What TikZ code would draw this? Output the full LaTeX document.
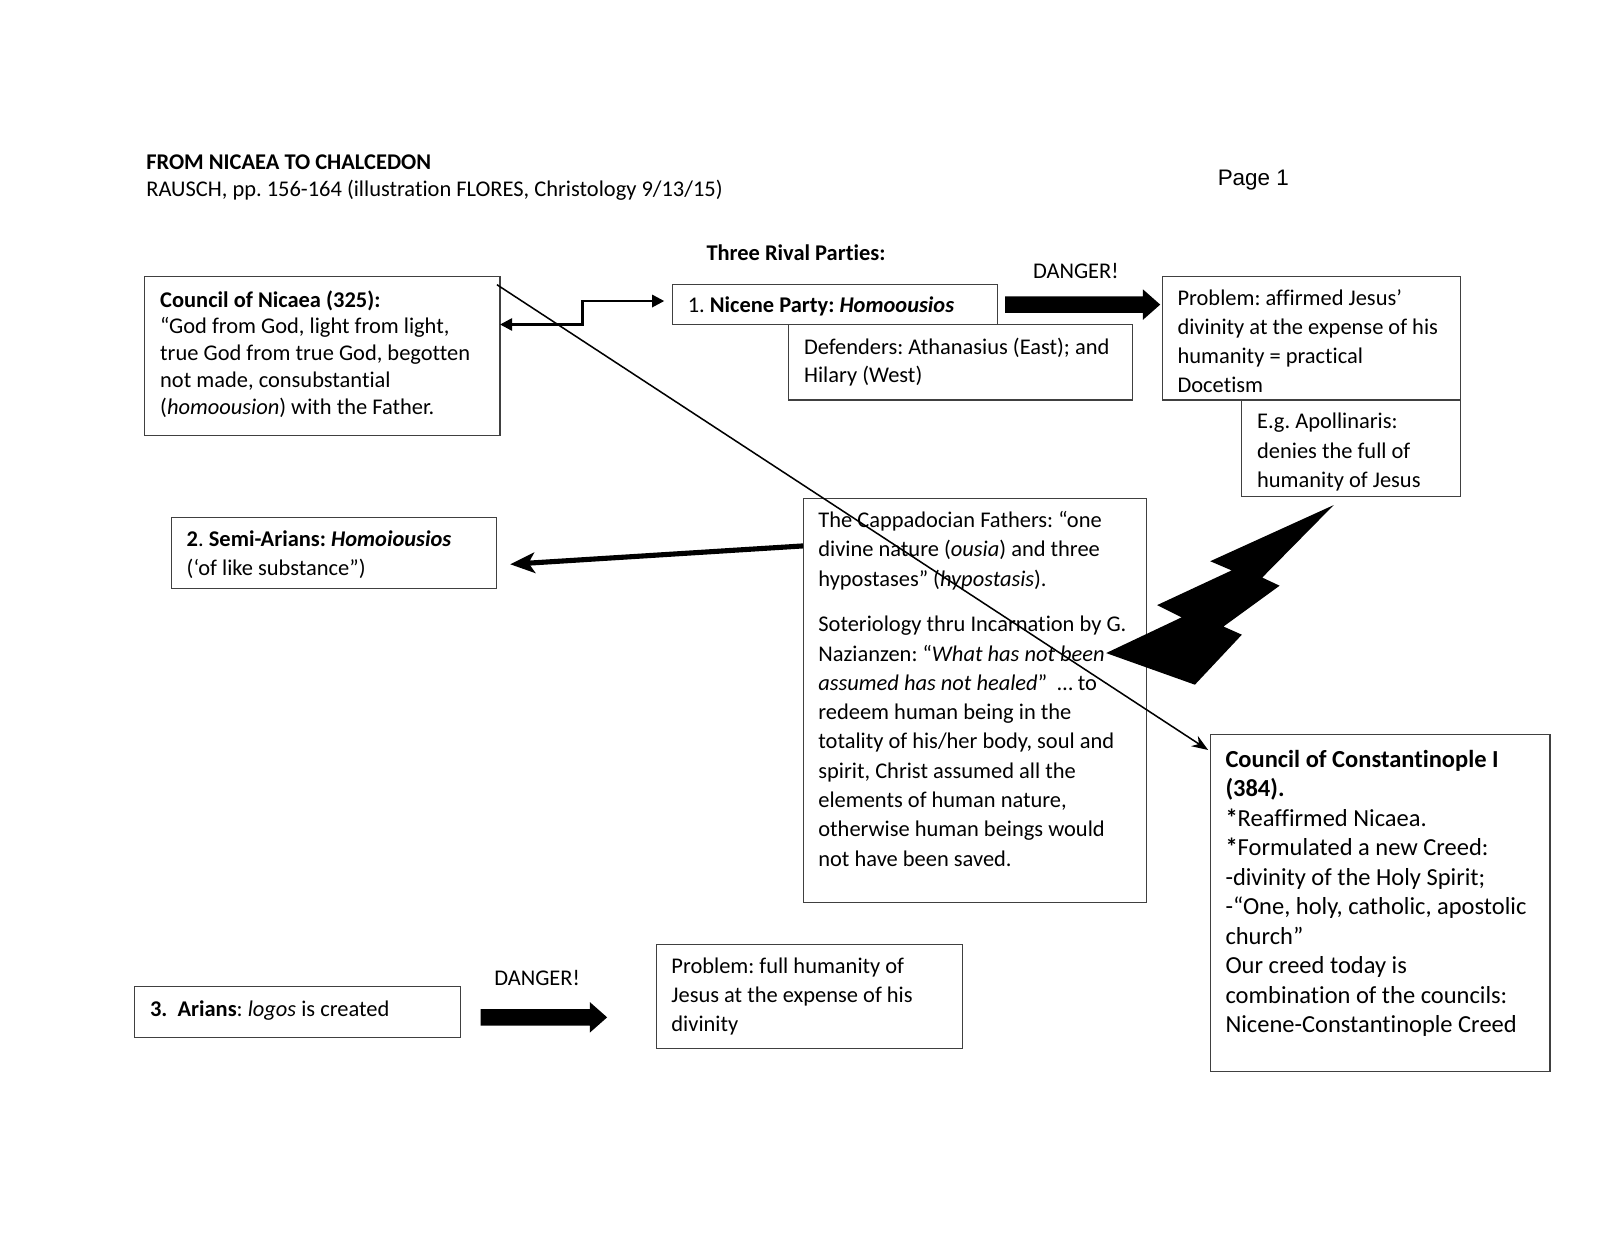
\documentclass[tikz,border=0pt]{standalone}
\usepackage{fontspec}
\setmainfont{Carlito}[Ligatures={TeX,NoCommon}]
\newfontfamily\arialfont{Liberation Sans}
\usetikzlibrary{arrows.meta,calc}
\frenchspacing
\newcommand{\bx}[4]{\parbox[c][#2][t]{#1}{\raggedright\rule{0pt}{#3}#4}}
\newcommand{\blockarrow}[2]{\fill ($(#1)+(0,-8)$) -- ($(#2)+(-17,-8)$) -- ($(#2)+(-17,-15)$) -- (#2) -- ($(#2)+(-17,15)$) -- ($(#2)+(-17,8)$) -- ($(#1)+(0,8)$) -- cycle;}
\begin{document}
\begin{tikzpicture}[x=0.5pt,y=-0.5pt,
  box/.style={draw=black!75, line width=0.5pt, fill=white, inner xsep=7.5pt, inner ysep=0pt, anchor=north west, outer sep=0pt},
  fe/.style={font=\fontsize{11}{#1}\selectfont},
  ft/.style={font=\fontsize{12}{#1}\selectfont},
  lbl/.style={anchor=base west, inner sep=0pt, font=\fontsize{11}{13}\selectfont},
]
\fill[white] (0,0) rectangle (1600,1237);
\useasboundingbox (0,0) rectangle (1600,1237);

\begin{scope}[transform canvas={scale=1.0204}]
% header
\node[lbl, font=\fontsize{11}{13}\selectfont\bfseries] (title) at (143,166) {FROM NICAEA TO CHALCEDON};
\node[lbl] (sub) at (143,193) {RAUSCH, pp. 156-164 (illustration FLORES, Christology 9/13/15)};
\node[lbl, font=\fontsize{11}{13}\selectfont\arialfont] (page) at (1193,182) {Page 1};
\node[lbl, font=\fontsize{11}{13}\selectfont\bfseries] (three) at (692,255) {Three Rival Parties:};
\node[lbl] (dang1) at (1012,273) {DANGER!};
\node[lbl] (dang2) at (484,966) {DANGER!};

% boxes
\node[box, fe=13.15] (nicaea) at (142,271) {\bx{159pt}{78pt}{15pt}{\textbf{Council of Nicaea (325):}\\
“God from God, light from light,\\
true God from true God, begotten\\
not made, consubstantial\\
(\textit{homoousion}) with the Father.}};

\node[box, fe=14] (nicene) at (659,279) {\bx{144.5pt}{19.5pt}{13.8pt}{1. \textbf{Nicene Party: \textit{Homoousios}}}};

\node[box, fe=14] (defend) at (773,318) {\bx{153.5pt}{37pt}{14.5pt}{Defenders: Athanasius (East); and\\ Hilary (West)}};

\node[box, fe=14.35] (prob1) at (1139,271) {\bx{131pt}{60.5pt}{14pt}{Problem: affirmed Jesus’\\ divinity at the expense of his\\ humanity = practical\\ Docetism}};

\node[box, fe=14.5] (eg) at (1217,392) {\bx{92pt}{47.5pt}{14pt}{E.g. Apollinaris:\\ denies the full of\\ humanity of Jesus}};

\node[box, fe=14] (semi) at (168,507) {\bx{144.5pt}{35pt}{14.5pt}{\textbf{2}. \textbf{Semi-Arians: \textit{Homoiousios}}\\ (‘of like substance”)}};

\node[box, fe=14.35] (capp) at (787,489) {\bx{153.5pt}{197.5pt}{14pt}{The Cappadocian Fathers: “one\\ divine nature (\textit{ousia}) and three\\ hypostases” (\textit{hypostasis}).\par\vspace{8pt}
Soteriology thru Incarnation by G.\\ Nazianzen: “\textit{What has not been}\\ \textit{assumed has not healed}”\ \ … to\\ redeem human being in the\\ totality of his/her body, soul and\\ spirit, Christ assumed all the\\ elements of human nature,\\ otherwise human beings would\\ not have been saved.}};

\node[box, ft=14.45] (const) at (1186,720) {\bx{151.5pt}{165pt}{16pt}{\textbf{Council of Constantinople I}\\ \textbf{(384).}\\ \textbf{*}Reaffirmed Nicaea.\\ \textbf{*}Formulated a new Creed:\\ -divinity of the Holy Spirit;\\ -“One, holy, catholic, apostolic\\ church”\\ Our creed today is\\ combination of the councils:\\ Nicene-Constantinople Creed}};

\node[box, fe=14] (arians) at (132,967) {\bx{144.5pt}{25pt}{14.5pt}{\textbf{3.\ \ Arians}: \textit{logos} is created}};

\node[box, fe=14.25] (prob2) at (643,926) {\bx{135pt}{51pt}{14pt}{Problem: full humanity of\\ Jesus at the expense of his\\ divinity}};

% elbow double arrow
\coordinate (k1) at (571,318);
\coordinate (k2) at (571,295);
\draw[line width=1.25pt, {Triangle[length=6pt,width=6pt]}-{Triangle[length=6pt,width=6pt]}]
  (nicaea.east |- k1) -- (k1) -- (k2) -- ($(nicene.west |- k2)+(-8,0)$);

% semi-arian arrow
\draw[line width=2.5pt, -{Stealth[length=12pt,width=10pt,inset=3pt]}]
  ($(capp.north west)+(0,46)$) -- ($(semi.east)+(13,11)$);

% block arrows
\coordinate (d1s) at ($(nicene.east)+(7,0)$);
\coordinate (d1e) at ($(prob1.west |- nicene.east)+(-2,0)$);
\blockarrow{d1s}{d1e}
\coordinate (d2s) at ($(arians.east)+(20,5)$);
\coordinate (d2e) at ($(arians.east)+(144,5)$);
\blockarrow{d2s}{d2e}

% thin diagonal
\draw[line width=0.75pt, -{Stealth[length=8pt,width=6pt]}]
  ($(nicaea.north east)+(-3,8)$) -- ($(const.north west)+(-2,15)$);

% lightning bolt
\fill (1307,495) -- (1186,550) -- (1207,559) -- (1134,593) -- (1158,605) -- (1084,640)
  -- (1171,671) -- (1217,622) -- (1199,614) -- (1254,574) -- (1237,566) -- cycle;
\end{scope}
\end{tikzpicture}
\end{document}
